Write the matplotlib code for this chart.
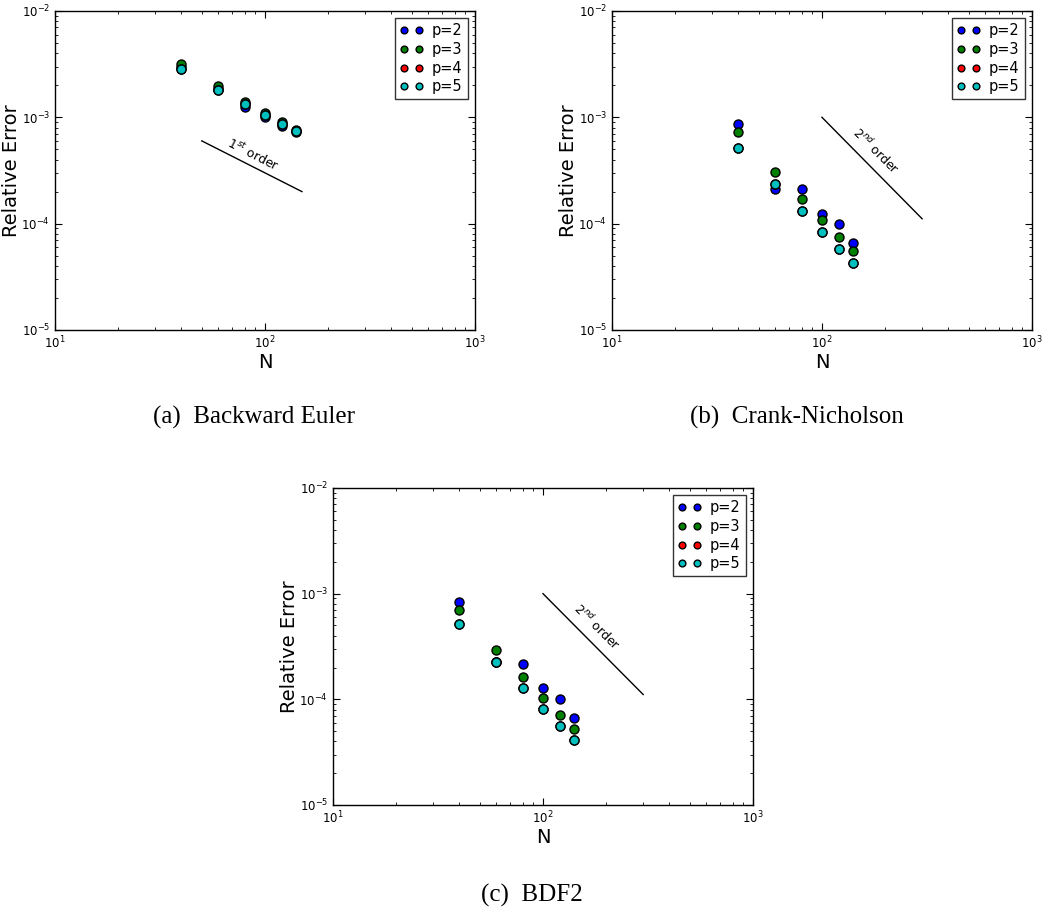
import numpy as np
import matplotlib.pyplot as plt
from matplotlib.ticker import LogLocator, NullFormatter

# Number of elements
N = [40, 60, 80, 100, 120, 140]

# Relative error, Backward Euler
be_p2 = [2.95e-3, 1.83e-3, 1.26e-3, 1.00e-3, 0.83e-3, 0.735e-3]
be_p3 = [3.18e-3, 1.97e-3, 1.40e-3, 1.10e-3, 0.90e-3, 0.755e-3]
be_p4 = [2.83e-3, 1.81e-3, 1.32e-3, 1.04e-3, 0.865e-3, 0.738e-3]
be_p5 = [2.83e-3, 1.81e-3, 1.32e-3, 1.04e-3, 0.865e-3, 0.738e-3]

# Relative error, Crank-Nicholson
cn_p2 = [8.6e-4, 2.13e-4, 2.12e-4, 1.24e-4, 9.9e-5, 6.53e-5]
cn_p3 = [7.2e-4, 3.08e-4, 1.71e-4, 1.09e-4, 7.55e-5, 5.53e-5]
cn_p4 = [5.19e-4, 2.34e-4, 1.31e-4, 8.4e-5, 5.82e-5, 4.27e-5]
cn_p5 = [5.19e-4, 2.34e-4, 1.31e-4, 8.4e-5, 5.82e-5, 4.27e-5]

# Relative error, BDF2
bdf_p2 = [8.43e-4, 2.24e-4, 2.18e-4, 1.27e-4, 1.0e-4, 6.62e-5]
bdf_p3 = [6.98e-4, 2.96e-4, 1.63e-4, 1.03e-4, 7.13e-5, 5.25e-5]
bdf_p4 = [5.15e-4, 2.27e-4, 1.28e-4, 8.18e-5, 5.65e-5, 4.16e-5]
bdf_p5 = [5.15e-4, 2.27e-4, 1.28e-4, 8.18e-5, 5.65e-5, 4.16e-5]

labels = ['p=2', 'p=3', 'p=4', 'p=5']
colors = ['b', 'g', 'r', 'c']

# reference slope lines: (x0, x1), (y0, y1)
first_x, first_y = [50, 150], [6e-4, 2e-4]
second_x, second_y = [100, 300], [1e-3, 1e-3 / 9]


def make_panel(ax, series, slope_x, slope_y, slope_text, text_xy, rot):
    for vals, lab, col in zip(series, labels, colors):
        ax.plot(N, vals, 'o', color=col, markeredgecolor='k',
                markersize=6.5, markeredgewidth=1.0, label=lab)
    ax.plot(slope_x, slope_y, 'k-', lw=1.0)
    ax.text(text_xy[0], text_xy[1], slope_text, rotation=rot,
            ha='center', va='center', fontsize=9)
    ax.set_xscale('log')
    ax.set_yscale('log')
    ax.set_xlim(10, 1000)
    ax.set_ylim(1e-5, 1e-2)
    ax.set_xlabel('N', fontsize=14, labelpad=1)
    ax.set_ylabel('Relative Error', fontsize=14)
    ax.yaxis.set_label_coords(-0.082, 0.5)
    ax.tick_params(which='both', direction='in', top=True, right=True,
                   labelsize=8.5)
    ax.tick_params(which='major', length=5)
    ax.tick_params(which='minor', length=2.5)
    ax.xaxis.set_minor_locator(LogLocator(base=10, subs=np.arange(2, 10)))
    ax.yaxis.set_minor_locator(LogLocator(base=10, subs=np.arange(2, 10)))
    ax.xaxis.set_minor_formatter(NullFormatter())
    ax.yaxis.set_minor_formatter(NullFormatter())
    for s in ax.spines.values():
        s.set_linewidth(1.0)
    leg = ax.legend(loc='upper right', numpoints=2, fontsize=10.5,
                    fancybox=False, markerscale=0.75, handlelength=1.6,
                    borderaxespad=0.5, labelspacing=0.25, handletextpad=0.6,
                    borderpad=0.35)
    leg.get_frame().set_edgecolor('k')
    leg.get_frame().set_linewidth(1.0)


fig = plt.figure(figsize=(10.42, 9.13), dpi=100)

ax1 = fig.add_axes([0.0528, 0.6386, 0.403, 0.3494])
make_panel(ax1, [be_p2, be_p3, be_p4, be_p5], first_x, first_y,
           r'$1^{st}$ order', (88, 4.5e-4), -27)

ax2 = fig.add_axes([0.5873, 0.6386, 0.403, 0.3494])
make_panel(ax2, [cn_p2, cn_p3, cn_p4, cn_p5], second_x, second_y,
           r'$2^{nd}$ order', (180, 4.8e-4), -45)

ax3 = fig.add_axes([0.3196, 0.1183, 0.403, 0.3472])
make_panel(ax3, [bdf_p2, bdf_p3, bdf_p4, bdf_p5], second_x, second_y,
           r'$2^{nd}$ order', (180, 4.8e-4), -45)

cap = dict(ha='center', va='center', fontsize=18, family='Liberation Serif')
fig.text(254 / 1042, 1 - 417 / 913, '(a)  Backward Euler', **cap)
fig.text(797 / 1042, 1 - 417 / 913, '(b)  Crank-Nicholson', **cap)
fig.text(532 / 1042, 1 - 895 / 913, '(c)  BDF2', **cap)

fig.savefig('out.png', dpi=100)
